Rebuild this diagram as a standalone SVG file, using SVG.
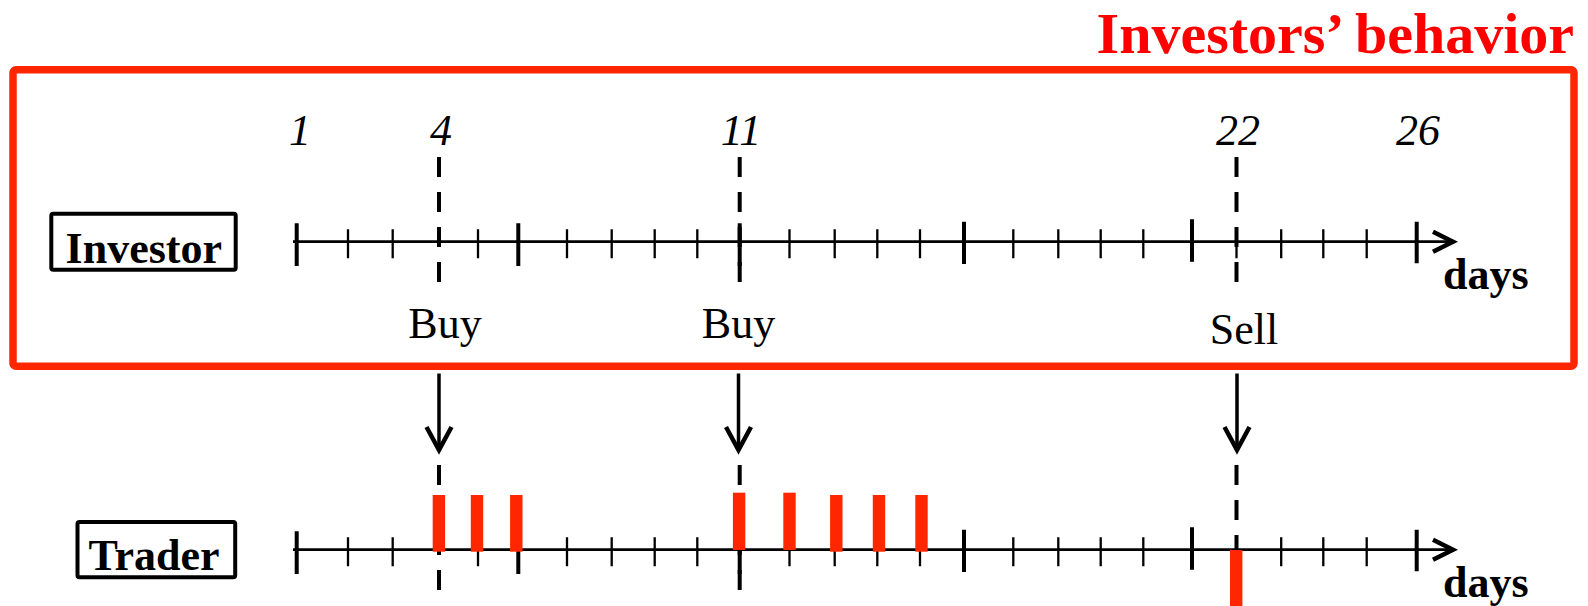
<svg xmlns="http://www.w3.org/2000/svg" xmlns:xlink="http://www.w3.org/1999/xlink" width="1588" height="606" viewBox="0 0 1588 606">
<style>
.serif{font-family:"Liberation Serif","Times New Roman",serif;fill:#000}
.bold{font-weight:bold}
.num{font-style:italic;font-size:44px;text-anchor:middle}
.act{font-size:44px;text-anchor:middle}
.lbl{font-size:44px;font-weight:bold;text-anchor:middle}
.days{font-size:44px;font-weight:bold}
.axis{stroke:#000;stroke-width:2.8;fill:none}
.minor{stroke:#000;stroke-width:2.3;fill:none}
.major{stroke:#000;stroke-width:4;fill:none}
.dash{stroke:#000;stroke-width:4;stroke-dasharray:20 15;fill:none}
.head{stroke:#000;stroke-width:4.5;fill:none;stroke-linejoin:miter;stroke-linecap:butt}
.box{fill:#fff;stroke:#000;stroke-width:4}
.bar{fill:#ff2600}
.shaft{stroke:#000;stroke-width:3.5;fill:none}
</style>
<defs>
<g id="axis">
<path class="axis" d="M293,0H1451"/>
<polyline class="head" points="1433,-10 1453,0 1433,10"/>
<path class="minor" d="M348,-12.4v29M392.7,-12.4v29M478,-12.4v29M567,-12.4v29M611.7,-12.4v29M654.7,-12.4v29M697.3,-12.4v29M789.5,-12.4v29M834.7,-12.4v29M877.3,-12.4v29M920,-12.4v29M1013.3,-12.4v29M1058.3,-12.4v29M1100.7,-12.4v29M1143.3,-12.4v29M1236.5,-12.4v29M1281.2,-12.4v29M1323.3,-12.4v29M1366.7,-12.4v29"/>
<path class="major" d="M296.7,-18.4v42.7M518.3,-18.4v42.7M739.7,-18.4v42.7M964,-20v42.3M1192,-22.4v42.4M1416.7,-20v41.6"/>
<path class="dash" d="M439,-84.7V42M739.7,-84.7V42M1236.5,-84.7V42"/>
<text class="serif days" x="1443" y="47">days</text>
</g>
</defs>

<g id="title">
<text class="serif bold" x="1574" y="53" font-size="58" text-anchor="end" style="fill:#ff0000">Investors’ behavior</text>
</g>

<g id="investor-panel">
<rect x="13" y="69.8" width="1561" height="296.5" rx="3" fill="none" stroke="#ff2600" stroke-width="7.5"/>
</g>

<g id="day-labels">
<text class="serif num" x="300" y="145">1</text>
<text class="serif num" x="441" y="145">4</text>
<text class="serif num" x="741" y="145">11</text>
<text class="serif num" x="1238" y="145">22</text>
<text class="serif num" x="1418" y="145">26</text>
</g>

<g id="investor-label">
<rect class="box" x="51.3" y="213.7" width="184.4" height="56" rx="2"/>
<text class="serif lbl" x="143.8" y="262.7">Investor</text>
</g>

<g id="investor-timeline">
<use xlink:href="#axis" transform="translate(0,241.7)"/>
</g>

<g id="actions">
<text class="serif act" x="445" y="337.5">Buy</text>
<text class="serif act" x="738.5" y="337.5">Buy</text>
<text class="serif act" x="1244" y="343.5">Sell</text>
</g>

<g id="trader-label">
<rect class="box" x="77.5" y="522" width="157.7" height="55.3" rx="2"/>
<text class="serif lbl" x="154" y="570">Trader</text>
</g>

<g id="trader-timeline">
<use xlink:href="#axis" transform="translate(0,549.7)"/>
<rect class="bar" x="432.7" y="495" width="12.4" height="56.7"/>
<rect class="bar" x="470.8" y="495" width="12.4" height="56.7"/>
<rect class="bar" x="510.1" y="495" width="12.4" height="56.7"/>
<rect class="bar" x="732.9" y="492.7" width="12.4" height="57.3"/>
<rect class="bar" x="783.3" y="492.7" width="12.4" height="57.3"/>
<rect class="bar" x="830.1" y="495" width="12.4" height="56.7"/>
<rect class="bar" x="872.8" y="495" width="12.4" height="56.7"/>
<rect class="bar" x="915.3" y="495" width="12.4" height="56.7"/>
<rect class="bar" x="1230" y="550" width="12.4" height="56"/>
</g>

<g id="connectors">
<path class="shaft" d="M439,373.5V446"/>
<polyline class="head" points="426.5,427 439,450 451.5,427"/>
<path class="shaft" d="M738.5,373.5V446"/>
<polyline class="head" points="726,427 738.5,450 751,427"/>
<path class="shaft" d="M1237,373.5V446"/>
<polyline class="head" points="1224.5,427 1237,450 1249.5,427"/>
</g>
</svg>
